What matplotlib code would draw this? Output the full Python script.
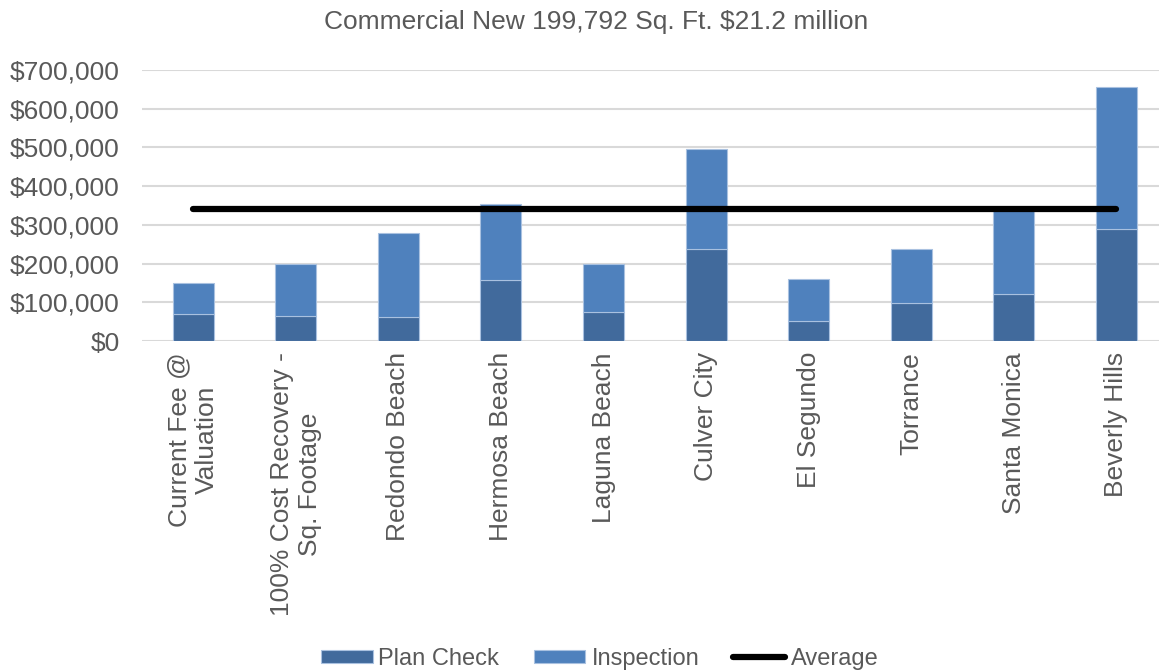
import matplotlib
matplotlib.use('Agg')
import matplotlib.pyplot as plt
from matplotlib.ticker import FuncFormatter, MultipleLocator

categories = ['Current Fee @\nValuation', '100% Cost Recovery -\nSq. Footage',
              'Redondo Beach', 'Hermosa Beach', 'Laguna Beach', 'Culver City',
              'El Segundo', 'Torrance', 'Santa Monica', 'Beverly Hills']
plan_check = [70500, 65000, 63000, 157000, 76000, 237000, 52000, 99000, 121000, 290000]
totals = [149000, 198000, 278000, 354000, 198000, 497000, 161000, 238000, 339000, 655000]
inspection = [t - p for t, p in zip(totals, plan_check)]
# average of the surveyed cities (first two columns are this city's own fees)
average = sum(totals[2:]) / len(totals[2:])

plt.rcParams['font.family'] = ['Liberation Sans', 'DejaVu Sans']
text_color = '#595959'

fig = plt.figure(figsize=(11.59, 6.71), dpi=100)
ax = fig.add_axes([0.1225, 0.4918, 0.885, 0.4039])

x = list(range(len(categories)))
b1 = ax.bar(x, plan_check, width=0.4, color='#416A9C', edgecolor='#A9C1E0',
            linewidth=0.8, label='Plan Check', zorder=2)
b2 = ax.bar(x, inspection, width=0.4, bottom=plan_check, color='#4F81BD',
            edgecolor='#A9C1E0', linewidth=0.8, label='Inspection', zorder=2)
l1, = ax.plot([x[0], x[-1]], [average, average], color='black', lw=4.5,
              solid_capstyle='round', label='Average', zorder=3)

ax.set_xlim(-0.5, len(categories) - 0.5)
ax.set_ylim(0, 700000)
ax.yaxis.set_major_locator(MultipleLocator(100000))
ax.yaxis.set_major_formatter(FuncFormatter(lambda v, p: f'${v:,.0f}'))
ax.grid(axis='y', color='#D9D9D9', lw=1.5, zorder=0)
for s in ax.spines.values():
    s.set_visible(False)
ax.tick_params(length=0, labelsize=19, colors=text_color)
ax.tick_params(axis='y', pad=16)
ax.set_xticks(x)
ax.set_xticklabels(categories, rotation=90, multialignment='center')
ax.tick_params(axis='x', pad=8)

fig.text(0.514, 0.967, 'Commercial New 199,792 Sq. Ft. $21.2 million',
         fontsize=19, color=text_color, ha='center', va='center')

fig.legend([b1, b2, l1], ['Plan Check', 'Inspection', 'Average'],
           loc='lower center', ncol=3, frameon=False, fontsize=17,
           labelcolor=text_color, bbox_to_anchor=(0.5175, -0.03),
           handlelength=2.2, handleheight=0.47, handletextpad=0.25,
           columnspacing=1.45)

fig.savefig('out.png', dpi=100)
